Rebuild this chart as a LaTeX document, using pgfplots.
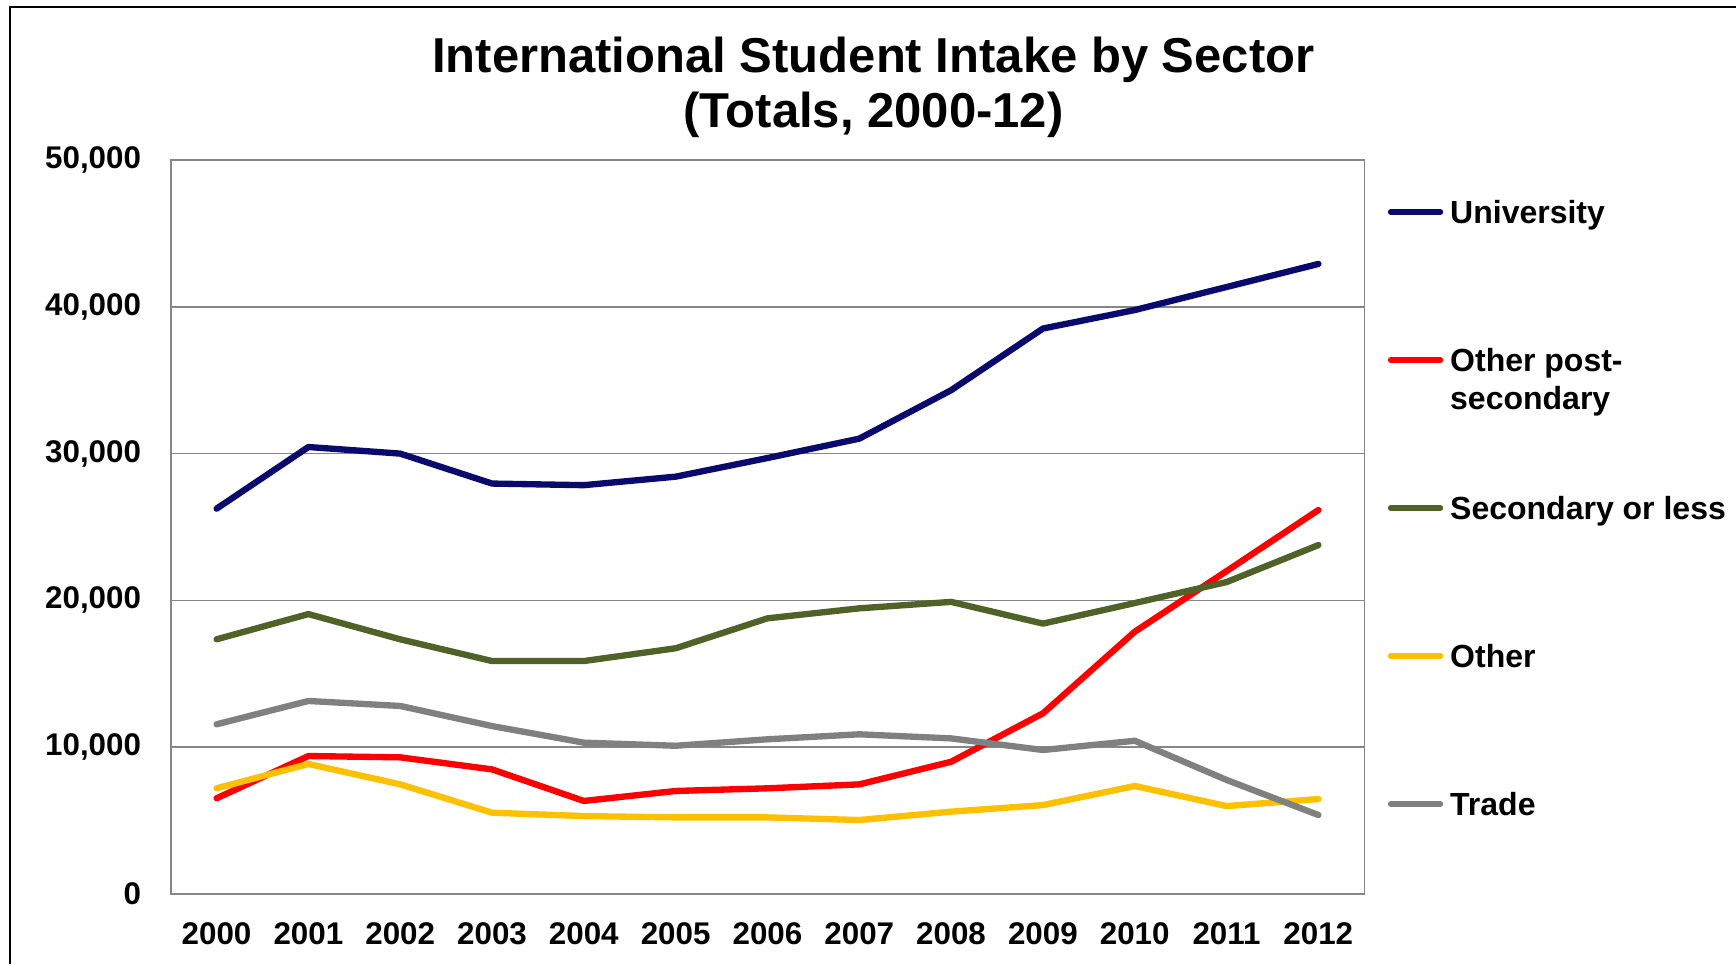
\documentclass[border=0pt]{standalone}
\usepackage{fontspec}
\setmainfont{Liberation Sans}
\usepackage{pgfplots}
\pgfplotsset{compat=1.18}

\definecolor{univ}{RGB}{10,10,110}
\definecolor{postsec}{RGB}{255,0,0}
\definecolor{secless}{RGB}{79,98,40}
\definecolor{othr}{RGB}{255,192,0}
\definecolor{trade}{RGB}{128,128,128}
\definecolor{gridgray}{RGB}{134,134,134}

\begin{document}
\begin{tikzpicture}
% outer chart border (cut off at right and bottom)
\draw[line width=0.6pt] (2.9pt,-289.2pt) -- (2.9pt,-2pt) -- (520.8pt,-2pt);

\node[anchor=base, font=\fontsize{14.7}{16}\selectfont\bfseries] at (262pt,-21.7pt) {International Student Intake by Sector};
\node[anchor=base, font=\fontsize{14.7}{16}\selectfont\bfseries] at (262pt,-38.2pt) {(Totals, 2000-12)};

\begin{axis}[
    at={(51.2pt,-268.2pt)}, anchor=south west,
    scale only axis,
    width=358.1pt, height=220.2pt,
    xmin=1999.5, xmax=2012.5,
    ymin=0, ymax=50000,
    xtick={2000,...,2012},
    ytick={0,10000,...,50000},
    scaled y ticks=false,
    major tick length=0pt,
    axis line style={draw=gridgray, line width=0.5pt},
    ymajorgrids=true,
    grid style={draw=gridgray, line width=0.5pt},
    /pgf/number format/assume math mode=true,
    tick label style={font=\fontsize{9.4}{11}\selectfont\bfseries, inner sep=0pt},
    xticklabel style={/pgf/number format/1000 sep={}, yshift=-8.3pt},
    yticklabel style={/pgf/number format/1000 sep={,}, xshift=-8.7pt},
    no markers,
    every axis plot/.append style={line width=1.9pt, line join=round, line cap=round},
    legend cell align=left,
    legend style={at={(1.0197,0.9496)}, anchor=north west, draw=none, fill=none,
        inner sep=0pt, outer sep=0pt, row sep=22.4pt, column sep=2.1pt,
        font=\fontsize{9.6}{11.3}\selectfont\bfseries,
        nodes={inner sep=0pt, text height=8pt, text depth=14pt},
        cells={anchor=base west}},
    legend image code/.code={\draw[#1, line width=1.7pt, line cap=round] (0pt,3.5pt) -- (14.9pt,3.5pt);},
]
% University
\addplot[univ] coordinates {(2000,26250) (2001,30450) (2002,30000) (2003,27960) (2004,27850) (2005,28430) (2006,29700) (2007,31020) (2008,34320) (2009,38520) (2010,39780) (2011,41350) (2012,42920)};
\addlegendentry{University}

% Other post-secondary
\addplot[postsec] coordinates {(2000,6520) (2001,9400) (2002,9310) (2003,8490) (2004,6340) (2005,7020) (2006,7200) (2007,7470) (2008,9010) (2009,12310) (2010,17870) (2011,22000) (2012,26160)};
\addlegendentry{\vtop{\hbox{Other post-}\hbox{secondary}}}

% Secondary or less
\addplot[secless] coordinates {(2000,17350) (2001,19070) (2002,17350) (2003,15870) (2004,15870) (2005,16740) (2006,18780) (2007,19460) (2008,19900) (2009,18420) (2010,19820) (2011,21250) (2012,23770)};
\addlegendentry{Secondary or less}

% Other
\addplot[othr] coordinates {(2000,7200) (2001,8860) (2002,7470) (2003,5540) (2004,5310) (2005,5220) (2006,5220) (2007,5040) (2008,5610) (2009,6060) (2010,7360) (2011,5990) (2012,6470)};
\addlegendentry{Other}

% Trade
\addplot[trade] coordinates {(2000,11560) (2001,13150) (2002,12810) (2003,11440) (2004,10310) (2005,10100) (2006,10540) (2007,10880) (2008,10600) (2009,9810) (2010,10440) (2011,7770) (2012,5380)};
\addlegendentry{Trade}
\end{axis}

\pgfresetboundingbox
\useasboundingbox (0pt,0pt) rectangle (520.8pt,-289.2pt);
\end{tikzpicture}
\end{document}
